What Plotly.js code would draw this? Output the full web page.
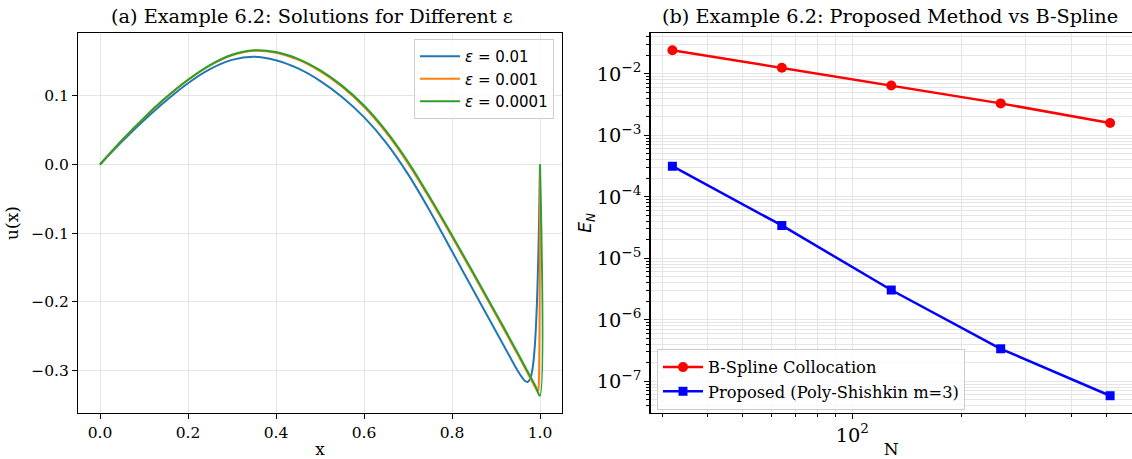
<!DOCTYPE html>
<html><head><meta charset="utf-8">
<script src="https://cdn.plot.ly/plotly-3.0.1.min.js"></script>
<style>html,body{margin:0;padding:0;background:#fff}#chart{width:1132px;height:459px}</style>
</head><body><div id="chart"></div>
<script>
// ---- Panel (a): solutions for different epsilon ----
const eps_labels = ['<i>ε</i> = 0.01', '<i>ε</i> = 0.001', '<i>ε</i> = 0.0001'];
const x_eps1 = [0, 0.05, 0.1, 0.15, 0.2, 0.25, 0.3, 0.35, 0.4, 0.45, 0.5, 0.55, 0.6, 0.65, 0.7, 0.75, 0.8, 0.85, 0.9, 0.93, 0.95, 0.96, 0.966, 0.972, 0.978, 0.983, 0.987, 0.99, 0.993, 0.995, 0.997, 0.998, 0.999, 1.0];
const u_eps1 = [0, 0.0335, 0.0645, 0.093, 0.1185, 0.139, 0.1525, 0.157, 0.152, 0.140, 0.122, 0.0985, 0.069, 0.032, -0.014, -0.068, -0.1265, -0.185, -0.2435, -0.2785, -0.3013, -0.311, -0.3156, -0.3169, -0.3118, -0.2977, -0.2744, -0.246, -0.2024, -0.1617, -0.110, -0.078, -0.041, 0.0];
const x_eps2 = [0, 0.05, 0.1, 0.15, 0.2, 0.25, 0.3, 0.35, 0.4, 0.45, 0.5, 0.55, 0.6, 0.65, 0.7, 0.75, 0.8, 0.85, 0.9, 0.95, 0.97, 0.99, 0.994, 0.996, 0.997, 0.998, 0.999, 0.9995, 1.0];
const u_eps2 = [0, 0.0355, 0.068, 0.0975, 0.1233, 0.1445, 0.1593, 0.1657, 0.163, 0.1528, 0.136, 0.1133, 0.084, 0.0468, 0.0017, -0.0503, -0.1053, -0.1618, -0.2193, -0.2778, -0.3018, -0.3258, -0.330, -0.329, -0.323, -0.300, -0.220, -0.140, 0.0];
const x_eps3 = [0, 0.05, 0.1, 0.15, 0.2, 0.25, 0.3, 0.35, 0.4, 0.45, 0.5, 0.55, 0.6, 0.65, 0.7, 0.75, 0.8, 0.85, 0.9, 0.95, 0.97, 0.99, 0.9995, 1.0];
const u_eps3 = [0, 0.0355, 0.068, 0.0975, 0.1235, 0.145, 0.160, 0.1665, 0.164, 0.154, 0.1375, 0.115, 0.086, 0.049, 0.004, -0.048, -0.103, -0.1595, -0.217, -0.2755, -0.2995, -0.3235, -0.337, 0.0];
const eps_colors = ['#1f77b4', '#ff7f0e', '#2ca02c'];

// ---- Panel (b): convergence comparison ----
const N_vals = [32, 64, 128, 256, 512];
const err_bspline = [2.41e-2, 1.25e-2, 6.45e-3, 3.30e-3, 1.58e-3];
const err_proposed = [3.14e-4, 3.42e-5, 3.05e-6, 3.38e-7, 5.83e-8];
const series_names = ['B-Spline Collocation', 'Proposed (Poly-Shishkin m=3)'];

const W = 1132, H = 459;
const pad = (a, b, f = 0.05) => { const s = b - a; return [a - s * f, b + s * f]; };
const allX = [].concat(x_eps1, x_eps2, x_eps3);
const allU = [].concat(u_eps1, u_eps2, u_eps3);
const xRangeA = pad(Math.min(...allX), Math.max(...allX));
const yRangeA = pad(Math.min(...allU), Math.max(...allU));
const lN = N_vals.map(Math.log10);
const lE = [].concat(err_bspline, err_proposed).map(Math.log10);
const xRangeB = pad(Math.min(...lN), Math.max(...lN));
const yRangeB = pad(Math.min(...lE), Math.max(...lE));

const serif = 'DejaVu Serif';
const GRID = '#e5e5e5';
const tickFont = {family: serif, size: 15.5, color: '#000'};

const traces = [
  {x: x_eps1, y: u_eps1, name: eps_labels[0], mode: 'lines', line: {color: eps_colors[0], width: 2, shape: 'spline', smoothing: 1}, xaxis: 'x', yaxis: 'y', legend: 'legend'},
  {x: x_eps2, y: u_eps2, name: eps_labels[1], mode: 'lines', line: {color: eps_colors[1], width: 2, shape: 'spline', smoothing: 1}, xaxis: 'x', yaxis: 'y', legend: 'legend'},
  {x: x_eps3, y: u_eps3, name: eps_labels[2], mode: 'lines', line: {color: eps_colors[2], width: 2, shape: 'spline', smoothing: 1}, xaxis: 'x', yaxis: 'y', legend: 'legend'},
  {x: N_vals, y: err_bspline, name: series_names[0], mode: 'lines+markers', line: {color: '#ff0000', width: 2.5}, marker: {symbol: 'circle', size: 10, color: '#ff0000'}, xaxis: 'x2', yaxis: 'y2', legend: 'legend2'},
  {x: N_vals, y: err_proposed, name: series_names[1], mode: 'lines+markers', line: {color: '#0000ff', width: 2.5}, marker: {symbol: 'square', size: 9, color: '#0000ff'}, xaxis: 'x2', yaxis: 'y2', legend: 'legend2'}
];

const axCommon = {
  showline: true, mirror: true, linecolor: '#000', linewidth: 1.1,
  ticks: 'outside', ticklen: 5, tickwidth: 1, tickcolor: '#000',
  showgrid: true, gridcolor: GRID, gridwidth: 1, zeroline: false,
  tickfont: tickFont
};
const yDom = [46 / H, 426 / H];

const layout = {
  width: W, height: H,
  margin: {l: 0, r: 0, t: 0, b: 0},
  paper_bgcolor: '#fff', plot_bgcolor: '#fff',
  font: {family: serif, size: 15.5, color: '#000'},
  showlegend: true,
  xaxis: Object.assign({}, axCommon, {
    domain: [78 / W, 562 / W], range: xRangeA, tick0: 0, dtick: 0.2, tickformat: '.1f',
    anchor: 'y', title: {text: 'x', font: {family: serif, size: 17, color: '#000'}, standoff: 6}
  }),
  yaxis: Object.assign({}, axCommon, {
    domain: yDom, range: yRangeA, tick0: 0, dtick: 0.1, tickformat: '.1f',
    anchor: 'x', title: {text: 'u(x)', font: {family: serif, size: 17, color: '#000'}, standoff: 8}
  }),
  xaxis2: Object.assign({}, axCommon, {
    type: 'log', domain: [650.5 / W, 1], range: xRangeB, dtick: 1, exponentformat: 'power',
    anchor: 'y2',
    minor: {dtick: 'D1', ticks: 'outside', ticklen: 3, tickcolor: '#000', showgrid: true, gridcolor: GRID, gridwidth: 1},
    title: {text: 'N', font: {family: serif, size: 17, color: '#000'}, standoff: 6}
  }),
  yaxis2: Object.assign({}, axCommon, {
    type: 'log', domain: yDom, range: yRangeB, dtick: 1, exponentformat: 'power',
    anchor: 'x2',
    minor: {dtick: 'D1', ticks: 'outside', ticklen: 3, tickcolor: '#000', showgrid: true, gridcolor: GRID, gridwidth: 1},
    title: {text: '<i>E</i><sub><i>N</i></sub>', font: {family: 'DejaVu Sans', size: 17, color: '#000'}, standoff: 0}
  }),
  legend: {
    x: 554 / W, y: 1 - 79 / H, xanchor: 'right', yanchor: 'middle',
    bgcolor: 'rgba(255,255,255,0.8)', bordercolor: '#cccccc', borderwidth: 1,
    itemwidth: 40,
    font: {family: 'DejaVu Sans', size: 15, color: '#000'}
  },
  legend2: {
    x: 657 / W, y: 1 - 379.5 / H, xanchor: 'left', yanchor: 'middle',
    bgcolor: 'rgba(255,255,255,0.8)', bordercolor: '#cccccc', borderwidth: 1,
    itemwidth: 40,
    font: {family: serif, size: 16.3, color: '#000'}
  },
  annotations: [
    {text: '(a) Example 6.2: Solutions for Different ε', xref: 'paper', yref: 'paper', x: 312 / W, y: 1 - 17 / H,
     xanchor: 'center', yanchor: 'middle', showarrow: false, font: {family: serif, size: 19.3, color: '#000'}},
    {text: '(b) Example 6.2: Proposed Method vs B-Spline', xref: 'paper', yref: 'paper', x: 890 / W, y: 1 - 17 / H,
     xanchor: 'center', yanchor: 'middle', showarrow: false, font: {family: serif, size: 19.3, color: '#000'}}
  ]
};

Plotly.newPlot('chart', traces, layout, {staticPlot: true, displayModeBar: false});
</script>
</body></html>
